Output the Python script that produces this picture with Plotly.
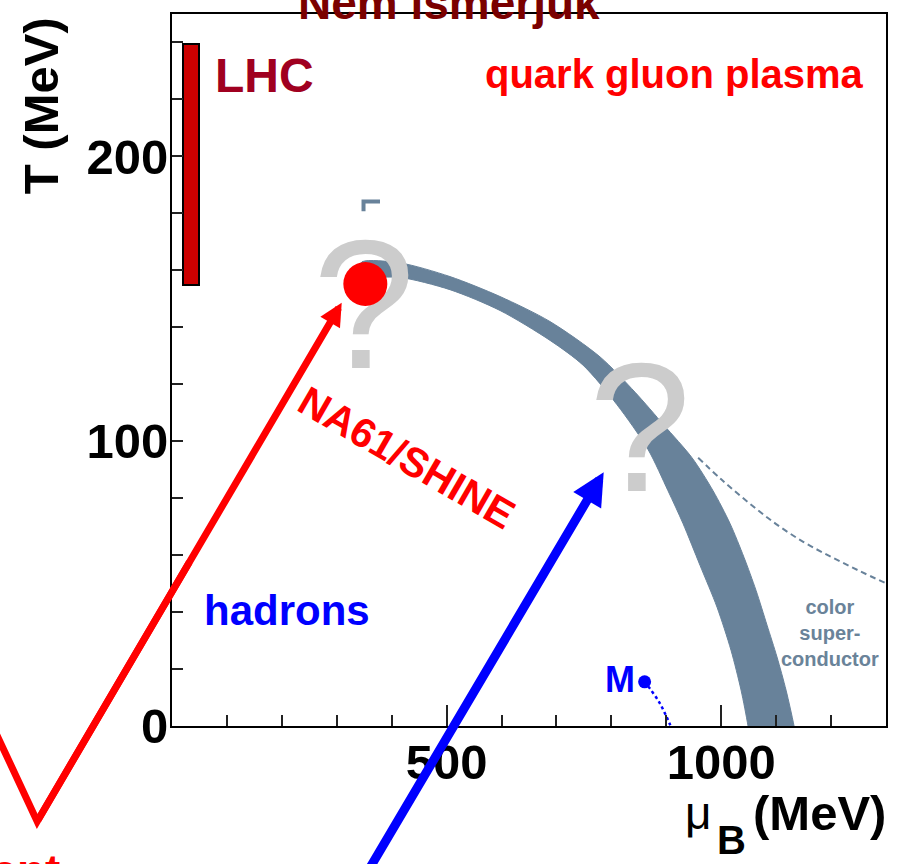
import plotly.graph_objects as go

# ---------------- data ----------------
X_RANGE = [0, 1300]          # mu_B (MeV)
Y_RANGE = [0, 250]           # T (MeV)

x_tickvals = [500, 1000]
x_ticktext = ["500", "1000"]
x_minor_vals = [100, 200, 300, 400, 600, 700, 800, 900, 1100, 1200, 1300]
y_tickvals = [0, 100, 200]
y_ticktext = ["0", "100", "200"]
y_minor_vals = [20, 40, 60, 80, 120, 140, 160, 180, 220, 240]

# crossover / transition band (outer and inner edge)
band_outer_mu = [338.7, 346.0, 415.1, 506.2, 597.2, 688.3, 779.3, 843.1, 895.8, 946.8,
                 985.1, 1016.0, 1041.5, 1063.4, 1083.4, 1101.6, 1118.0, 1132.6, 1143.5]
band_outer_T = [160.6, 163.0, 162.6, 157.8, 150.8, 142.0, 129.6, 117.2, 105.6, 94.2,
                82.6, 71.1, 59.2, 47.6, 35.4, 24.2, 12.6, 0.0, -11.9]
band_inner_mu = [357.0, 415.1, 506.2, 597.2, 688.3, 748.4, 810.3, 866.7, 903.1, 930.4,
                 961.4, 992.4, 1017.8, 1036.1, 1048.8, 1057.9]
band_inner_T = [157.3, 157.5, 153.2, 145.9, 135.4, 126.7, 112.8, 97.1, 82.6, 71.1,
                56.4, 41.7, 26.6, 12.6, 0.0, -11.9]

# small bracket mark above the critical region
bracket_mu = [348.7, 348.7, 378.7]
bracket_T = [180.7, 184.2, 184.2]

# dashed boundary to the colour superconductor
dash_mu = [958, 1000, 1050, 1100, 1150, 1200, 1250, 1300]
dash_T = [94.2, 86.6, 78.4, 70.9, 64.6, 59.4, 54.6, 50.1]

# nuclear matter point M and its dotted line
m_point_mu = [860.5]
m_point_T = [15.5]
m_line_mu = [860.5, 869.6, 887.8, 900.5, 907.3]
m_line_T = [15.5, 13.3, 8.1, 3.2, 0.3]

# LHC bar
lhc_mu = [34.6]
lhc_width = [30.2]
lhc_T_low = [155.0]
lhc_T_high = [239.3]

# NA61/SHINE point
na61_mu = [352]
na61_T = [155.2]

# question marks
qm_mu = [349.6, 852.0]
qm_T = [141.9, 98.5]

# arrows (tip, vertex/tail) in data units
red_tip = (309.0, 148.6)
red_vertex = (-245.5, -33.5)
red_left_start = (-348.5, 9.1)
blue_tip = (786.0, 89.1)
blue_tail = (326.0, -61.0)

# ---------------- styling ----------------
FONT = "Liberation Sans, Arial, Helvetica, sans-serif"
BAND = "#68829a"
RED = "#ff0000"
BLUE = "#0000ff"


def px(mu):
    return (mu - X_RANGE[0]) / (X_RANGE[1] - X_RANGE[0])


def py(T):
    return (T - Y_RANGE[0]) / (Y_RANGE[1] - Y_RANGE[0])


fig = go.Figure()

# band
fig.add_trace(go.Scatter(
    x=band_outer_mu + band_inner_mu[::-1],
    y=band_outer_T + band_inner_T[::-1],
    mode="lines", fill="toself", fillcolor=BAND,
    line=dict(color=BAND, width=1, shape="spline", smoothing=0.8),
    hoverinfo="skip"))

# small bracket
fig.add_trace(go.Scatter(
    x=bracket_mu, y=bracket_T, mode="lines",
    line=dict(color=BAND, width=4), hoverinfo="skip"))

# dashed line
fig.add_trace(go.Scatter(
    x=dash_mu, y=dash_T, mode="lines",
    line=dict(color=BAND, width=2, dash="6px,4px", shape="spline"),
    hoverinfo="skip"))

# M dotted line and point
fig.add_trace(go.Scatter(
    x=m_line_mu, y=m_line_T, mode="lines",
    line=dict(color=BLUE, width=2.5, dash="dot", shape="spline"),
    hoverinfo="skip"))
fig.add_trace(go.Scatter(
    x=m_point_mu, y=m_point_T, mode="markers",
    marker=dict(color=BLUE, size=13), hoverinfo="skip"))

# LHC bar
fig.add_trace(go.Bar(
    x=lhc_mu, y=[h - l for h, l in zip(lhc_T_high, lhc_T_low)], base=lhc_T_low,
    width=lhc_width, marker=dict(color="#cc0000", line=dict(color="black", width=2)),
    hoverinfo="skip"))

# question marks
fig.add_trace(go.Scatter(
    x=qm_mu, y=qm_T, mode="text", text=["?", "?"],
    textposition="middle center",
    textfont=dict(family=FONT, size=184, color="#cccccc"),
    hoverinfo="skip"))

# NA61 point
fig.add_trace(go.Scatter(
    x=na61_mu, y=na61_T, mode="markers",
    marker=dict(color=RED, size=44), hoverinfo="skip"))

tickfont = dict(family=FONT, size=49, color="black", weight="bold")

fig.update_layout(
    width=903, height=864,
    margin=dict(l=172, r=17, t=12, b=138, pad=0),
    paper_bgcolor="white", plot_bgcolor="white",
    showlegend=False, bargap=0,
    font=dict(family=FONT),
    xaxis=dict(
        range=X_RANGE, showgrid=False, zeroline=False,
        showline=True, linecolor="black", linewidth=2, mirror=True,
        ticks="inside", ticklen=21, tickwidth=1.5, tickcolor="#222",
        tickmode="array", tickvals=x_tickvals, ticktext=x_ticktext,
        tickfont=tickfont, ticklabelstandoff=-8,
        minor=dict(ticks="inside", ticklen=11, tickwidth=1.5, tickcolor="#222",
                   tickmode="array", tickvals=x_minor_vals, showgrid=False),
    ),
    yaxis=dict(
        range=Y_RANGE, showgrid=False, zeroline=False,
        showline=True, linecolor="black", linewidth=2, mirror=True,
        ticks="inside", ticklen=11, tickwidth=1.5, tickcolor="#222",
        tickmode="array", tickvals=y_tickvals, ticktext=y_ticktext,
        tickfont=tickfont, ticklabelstandoff=-8,
        minor=dict(ticks="inside", ticklen=11, tickwidth=1.5, tickcolor="#222",
                   tickmode="array", tickvals=y_minor_vals, showgrid=False),
    ),
)

# red V-shaped line (left part, outside the axes)
fig.add_shape(
    type="path", xref="paper", yref="paper", layer="above",
    path="M {:.4f},{:.4f} L {:.4f},{:.4f} L {:.4f},{:.4f}".format(
        px(red_left_start[0]), py(red_left_start[1]),
        px(red_vertex[0]), py(red_vertex[1]),
        px((red_vertex[0] + red_tip[0]) / 2), py((red_vertex[1] + red_tip[1]) / 2)),
    line=dict(color=RED, width=7))

annotations = []
# arrows
annotations.append(dict(
    x=red_tip[0], y=red_tip[1], xref="x", yref="y",
    ax=red_vertex[0], ay=red_vertex[1], axref="x", ayref="y",
    text="", showarrow=True, arrowhead=2, arrowsize=0.65, arrowwidth=7,
    arrowcolor=RED, standoff=0))
annotations.append(dict(
    x=blue_tip[0], y=blue_tip[1], xref="x", yref="y",
    ax=blue_tail[0], ay=blue_tail[1], axref="x", ayref="y",
    text="", showarrow=True, arrowhead=2, arrowsize=0.72, arrowwidth=9,
    arrowcolor=BLUE, standoff=0))


def label(text, x, y, size, color, ref="data", bold=True, angle=0,
          xanchor="center", yanchor="middle"):
    d = dict(text=text, x=x, y=y, showarrow=False,
             xanchor=xanchor, yanchor=yanchor, textangle=angle,
             font=dict(family=FONT, size=size, color=color,
                       weight="bold" if bold else "normal"))
    if ref == "data":
        d.update(xref="x", yref="y")
    else:
        d.update(xref="paper", yref="paper")
    annotations.append(d)


label("LHC", 168.4, 228.3, 48, "#a00020")
label("quark gluon plasma", 914, 228.8, 40, RED)
label("hadrons", 208.5, 40.5, 42, BLUE)
label("NA61/SHINE", 428, 94.2, 41, RED, angle=30)
label("M", 815.7, 16.4, 36, BLUE)
label("color<br>super-<br>conductor", 1198, 32.6, 20, "#6a8399")

label("Nem ismerjük", 0.388, 1.0154, 46, "#7a0000", ref="paper")
label("T (MeV)", -0.183, 0.871, 49, "black", ref="paper", angle=-90)
label("μ", 0.738, -0.1216, 46, "black", ref="paper", bold=False)
label("B", 0.784, -0.160, 40, "black", ref="paper")
label("(MeV)", 1.0028, -0.1218, 49, "black", ref="paper", xanchor="right")
label("experiment", -0.154, -0.203, 46, RED, ref="paper", xanchor="right")

fig.update_layout(annotations=annotations)

fig.write_html("out.html", config={"displayModeBar": False},
               post_script="document.body.style.margin='0px';")
